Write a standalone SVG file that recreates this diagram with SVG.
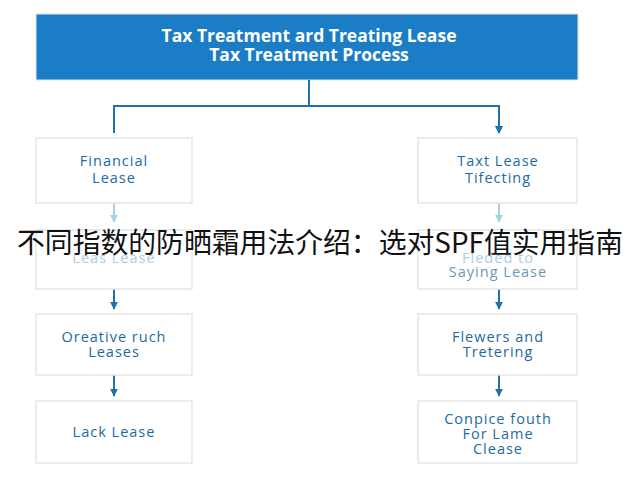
<svg xmlns="http://www.w3.org/2000/svg" width="640" height="480" viewBox="0 0 640 480">
<defs>
<marker id="ah" viewBox="0 0 10 10" refX="9" refY="5" markerWidth="4" markerHeight="4" orient="auto"><path d="M0,0L10,5L0,10z" fill="#1f72ad"/></marker>
<marker id="ahl" viewBox="0 0 10 10" refX="9" refY="5" markerWidth="4" markerHeight="4" orient="auto"><path d="M0,0L10,5L0,10z" fill="#a9cfe6"/></marker>
<style>
.box{fill:#fff;stroke:#e3e6e8;stroke-width:1.5}
.t{font-family:"Open Sans","DejaVu Sans",sans-serif;font-size:14.5px;fill:#1e6aa0;text-anchor:middle;letter-spacing:1px}
.f{fill:#a9cfe6}
.c{stroke:#1f72ad;stroke-width:2;fill:none}
.cl{stroke:#a9cfe6;stroke-width:2;fill:none}
</style>
</defs>
<rect width="640" height="480" fill="#fff"/>
<g id="header">
<rect x="36" y="14" width="542" height="66" fill="#1a7dc5" stroke="#dfe6ec"/>
<text x="309" y="42" font-family="'Open Sans','DejaVu Sans',sans-serif" font-weight="bold" font-size="17.5" fill="#fff" text-anchor="middle">Tax Treatment ard Treating Lease</text>
<text x="309" y="61" font-family="'Open Sans','DejaVu Sans',sans-serif" font-weight="bold" font-size="17.5" fill="#fff" text-anchor="middle">Tax Treatment Process</text>
</g>
<g id="connectors">
<path class="c" d="M309,80V106M114,133V106H499V133" marker-end="url(#ah)"/>
<path class="c" d="M499,106V133" marker-end="url(#ah)"/>
<path class="cl" d="M114,203V222" marker-end="url(#ahl)"/>
<path class="cl" d="M499,203V222" marker-end="url(#ahl)"/>
<path class="c" d="M114,289V309" marker-end="url(#ah)"/>
<path class="c" d="M499,289V309" marker-end="url(#ah)"/>
<path class="c" d="M114,375V396" marker-end="url(#ah)"/>
<path class="c" d="M499,375V396" marker-end="url(#ah)"/>
</g>
<g id="n1"><rect class="box" x="36" y="138" width="156" height="65"/><text class="t" x="114" y="166">Financial</text><text class="t" x="114" y="183">Lease</text></g>
<g id="n2"><rect class="box" x="418" y="138" width="159" height="65"/><text class="t" x="498" y="166">Taxt Lease</text><text class="t" x="498" y="183">Tifecting</text></g>
<g id="n3"><rect class="box" x="36" y="230" width="156" height="59"/><text class="t f" x="114" y="263">Leas Lease</text></g>
<g id="n4"><rect class="box" x="418" y="230" width="159" height="59"/><text class="t f" x="498" y="263">Fleded to</text><text class="t" x="498" y="277" style="fill:#6a98ba">Saying Lease</text></g>
<g id="n5"><rect class="box" x="36" y="314" width="156" height="61"/><text class="t" x="114" y="342">Oreative ruch</text><text class="t" x="114" y="357">Leases</text></g>
<g id="n6"><rect class="box" x="418" y="314" width="159" height="61"/><text class="t" x="498" y="342">Flewers and</text><text class="t" x="498" y="357">Tretering</text></g>
<g id="n7"><rect class="box" x="36" y="401" width="156" height="62"/><text class="t" x="114" y="437">Lack Lease</text></g>
<g id="n8"><rect class="box" x="418" y="401" width="159" height="62"/><text class="t" x="498" y="424">Conpice fouth</text><text class="t" x="498" y="439">For Lame</text><text class="t" x="498" y="454">Clease</text></g>
<text x="320" y="253" font-family="'Noto Sans CJK SC',sans-serif" font-size="28" fill="#111" text-anchor="middle" textLength="606" lengthAdjust="spacingAndGlyphs">不同指数的防晒霜用法介绍：选对SPF值实用指南</text>
</svg>
